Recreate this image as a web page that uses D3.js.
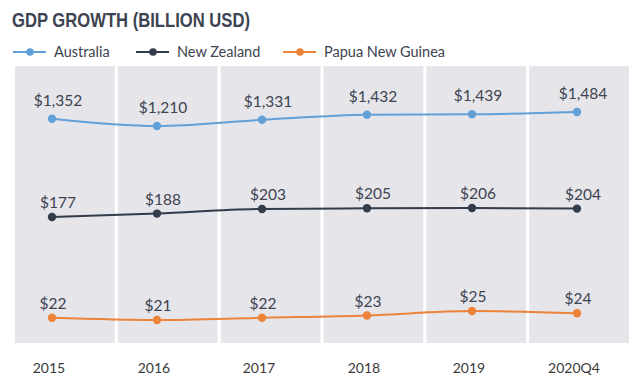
<!DOCTYPE html>
<html>
<head>
<meta charset="utf-8">
<script src="https://cdn.jsdelivr.net/npm/d3@7"></script>
<style>
  body { margin: 0; background: #fff; }
  svg { display: block; }
</style>
</head>
<body>
<svg id="chart" width="640" height="388"></svg>
<script>
// data
var years = ["2015", "2016", "2017", "2018", "2019", "2020Q4"];
var australia = [1352, 1210, 1331, 1432, 1439, 1484];
var newZealand = [177, 188, 203, 205, 206, 204];
var papua = [22, 21, 22, 23, 25, 24];

var seriesNames = ["Australia", "New Zealand", "Papua New Guinea"];
var seriesColors = ["#62a0d8", "#333c4a", "#ec8338"];
// each series sits in its own horizontal strip
var strips = [[126, 112], [217, 208], [320, 311]];

var TEXT = "#3d4350";
var svg = d3.select("#chart");

// title
svg.append("text")
  .attr("x", 12).attr("y", 27)
  .attr("font-family", "'Liberation Sans Narrow', 'Liberation Sans', sans-serif")
  .attr("font-weight", "bold")
  .attr("font-size", 21)
  .attr("textLength", 238)
  .attr("lengthAdjust", "spacingAndGlyphs")
  .attr("fill", TEXT)
  .text("GDP GROWTH (BILLION USD)");

// legend
var legendX = [13, 136, 283];
var legend = svg.selectAll("g.legend").data(seriesNames).enter()
  .append("g").attr("class", "legend")
  .attr("transform", function (d, i) { return "translate(" + legendX[i] + ",52)"; });
legend.append("line")
  .attr("x1", 0).attr("x2", 33).attr("y1", 0).attr("y2", 0)
  .attr("stroke", function (d, i) { return seriesColors[i]; })
  .attr("stroke-width", 2);
legend.append("circle")
  .attr("cx", 17).attr("r", 3.8)
  .attr("fill", function (d, i) { return seriesColors[i]; });
legend.append("text")
  .attr("x", 41).attr("y", 5)
  .attr("font-family", "Lato, sans-serif")
  .attr("font-size", 14.5)
  .attr("fill", TEXT)
  .text(function (d) { return d; });

// panels
var band = d3.scaleBand().domain(years).range([15, 629]).paddingInner(0.03);
svg.selectAll("rect.panel").data(years).enter()
  .append("rect").attr("class", "panel")
  .attr("x", function (d) { return band(d); })
  .attr("y", 66)
  .attr("width", band.bandwidth())
  .attr("height", 277)
  .attr("fill", "#e5e5ea");

var x = d3.scalePoint().domain(years).range([52, 577]);

// x labels
svg.selectAll("text.year").data(years).enter()
  .append("text").attr("class", "year")
  .attr("x", function (d) { return x(d) - 3; })
  .attr("y", 373)
  .attr("text-anchor", "middle")
  .attr("font-family", "Lato, sans-serif")
  .attr("font-size", 14)
  .attr("fill", "#3a3a3a")
  .text(function (d) { return d; });

var fmt = d3.format(",");
[australia, newZealand, papua].forEach(function (vals, s) {
  var y = d3.scaleLinear().domain(d3.extent(vals)).range(strips[s]);
  var pts = vals.map(function (v, i) { return { year: years[i], v: v }; });
  var g = svg.append("g");

  var line = d3.line()
    .x(function (d) { return x(d.year); })
    .y(function (d) { return y(d.v); })
    .curve(d3.curveMonotoneX);

  g.append("path")
    .datum(pts)
    .attr("d", line)
    .attr("fill", "none")
    .attr("stroke", seriesColors[s])
    .attr("stroke-width", 2);

  g.selectAll("circle").data(pts).enter()
    .append("circle")
    .attr("cx", function (d) { return x(d.year); })
    .attr("cy", function (d) { return y(d.v); })
    .attr("r", 4.2)
    .attr("fill", seriesColors[s]);

  g.selectAll("text").data(pts).enter()
    .append("text")
    .attr("x", function (d) { return x(d.year) + (s < 2 ? 6 : 1); })
    .attr("y", function (d) { return y(d.v) - (s === 0 ? 13 : 9); })
    .attr("text-anchor", "middle")
    .attr("font-family", "Lato, sans-serif")
    .attr("font-size", 15.5)
    .attr("fill", TEXT)
    .text(function (d) { return "$" + fmt(d.v); });
});
</script>
</body>
</html>
